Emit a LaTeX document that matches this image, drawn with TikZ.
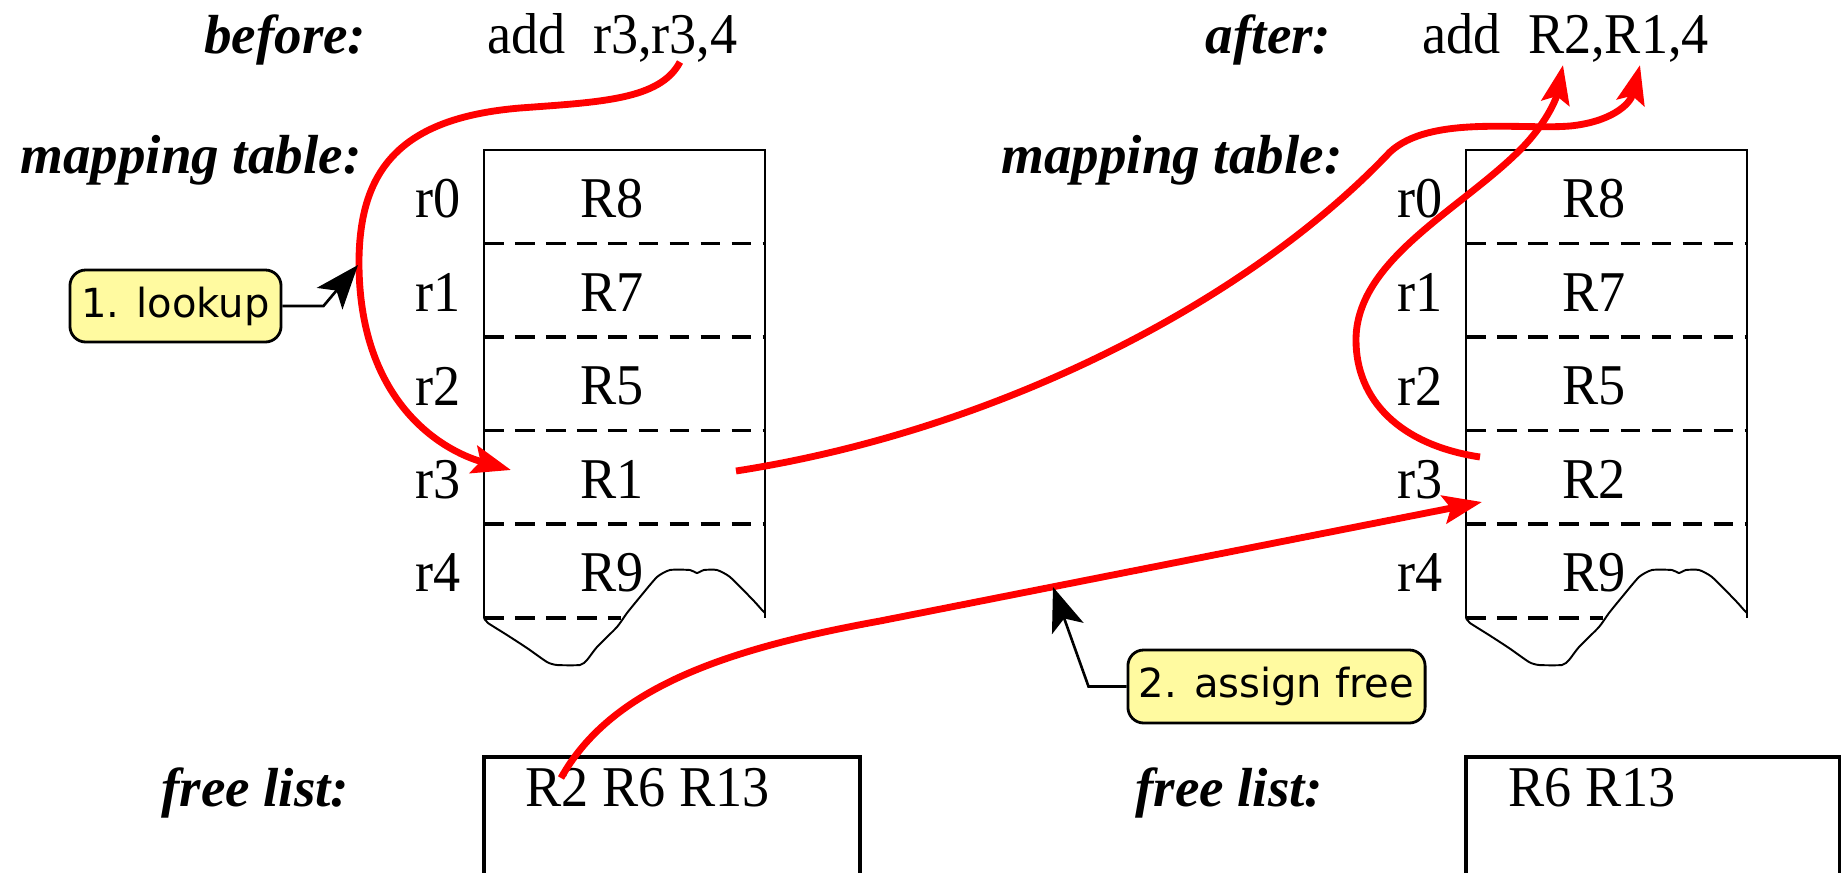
\documentclass[tikz,border=0pt]{standalone}
\usepackage{fontspec}
\setmainfont{Liberation Serif}
\newfontfamily\regfont{Liberation Serif}[FakeStretch=0.94]
\newfontfamily\calloutfont{DejaVu Sans}
\usetikzlibrary{arrows.meta}
\definecolor{notefill}{RGB}{255,250,160}
\definecolor{flowred}{RGB}{255,0,0}

\tikzset{
  lbl/.style={font=\fontsize{15.65}{18}\selectfont\bfseries\itshape, inner sep=0pt},
  txt/.style={font=\regfont\fontsize{16.4}{19}\selectfont, inner sep=0pt},
  frame/.style={line width=0.75pt},
  listframe/.style={line width=1pt},
  rowsep/.style={line width=0.95pt, dash pattern=on 5.6pt off 3.2pt},
  wave/.style={line width=0.55pt},
  flow/.style={draw=flowred, line width=1.95pt, -{Stealth[length=11pt,width=8pt,inset=2pt]}},
  note/.style={draw, line width=0.8pt, fill=notefill, rounded corners=4.5pt,
    font=\calloutfont\fontsize{11.4}{13}\selectfont, inner sep=0pt, align=center},
  notearrow/.style={line width=0.75pt, -{Stealth[length=12.5pt,width=9.5pt,inset=3pt]}}
}

\begin{document}
\begin{tikzpicture}[x=0.01cm,y=-0.01cm]
\useasboundingbox (0,0) rectangle (1841,872);

% headings
\node[lbl, anchor=base east] (before) at (367,53) {before:};
\node[txt, anchor=base west] (instrA) at (487,53) {add\ \ r3,r3,4};
\node[lbl, anchor=base east] (after) at (1332,53) {after:};
\node[txt, anchor=base west] (instrB) at (1422,53) {add\ \ R2,R1,4};
\node[lbl, anchor=base east] (mapL) at (362,173) {mapping table:};
\node[lbl, anchor=base east] (mapR) at (1343,173) {mapping table:};

% the two mapping tables
\foreach \x/\s/\v in {484/L/R1,1466/R/R2}{
  \draw[frame] (\x,618) -- (\x,150) -- (\x+281,150) -- (\x+281,618);
  \foreach \y in {243.5,337,430.5,524}
    \draw[rowsep] (\x,\y) -- (\x+281,\y);
  \draw[rowsep] (\x,618) -- (\x+137,618);
  \draw[wave] plot[smooth, tension=0.35] coordinates {
    (\x,618) (\x+4,623) (\x+23,635) (\x+43,648) (\x+63,662) (\x+73,665)
    (\x+96,665) (\x+103,660) (\x+113,647) (\x+133,627) (\x+143,613)
    (\x+156,597) (\x+173,577) (\x+186,570) (\x+206,570) (\x+213,573)
    (\x+220,570) (\x+233,570) (\x+246,577) (\x+269,600) (\x+278,610) (\x+281,613)};
  \foreach \i/\r/\e in {0/r0/R8,1/r1/R7,2/r2/R5,3/r3/\v,4/r4/R9}{
    \node[txt] (\s-\r) at (\x-46,199+\i*93.5) {\r};
    \node[txt] (\s-\e) at (\x+128,199+\i*93.5) {\e};
  }
}

% free lists
\node[lbl, anchor=base east] (freeL) at (350,806) {free list:};
\node[lbl, anchor=base east] (freeR) at (1324,806) {free list:};
\draw[listframe] (484,880) -- (484,757) -- (860,757) -- (860,880);
\draw[listframe] (1466,880) -- (1466,757) -- (1840,757) -- (1840,880);
\node[txt, anchor=base west] (listL) at (525,806) {R2 R6 R13};
\node[txt, anchor=base west] (listR) at (1508,806) {R6 R13};

% register flow
\coordinate (srcA) at (680,62);
\coordinate (tipA) at (511,470);
\coordinate (srcB) at (736,471);
\coordinate (tipB) at (1640,65);
\coordinate (srcC) at (1480,457);
\coordinate (tipC) at (1563,65);
\coordinate (srcD) at (561,778);
\coordinate (tipD) at (1482,502);

\draw[flow] (srcA) .. controls (660,100) and (600,102) .. (520,108)
  .. controls (400,118) and (360,170) .. (359,260)
  .. controls (358,400) and (440,450) .. (tipA);
\draw[flow] (srcB) .. controls (1000,430) and (1250,300) .. (1390,152)
  .. controls (1430,115) and (1520,130) .. (1570,126)
  .. controls (1610,122) and (1630,105) .. (tipB);
\draw[flow] (srcC) .. controls (1400,445) and (1356,400) .. (1356,340)
  .. controls (1356,260) and (1460,210) .. (1520,150)
  .. controls (1545,125) and (1556,100) .. (tipC);
\draw[flow] (srcD) .. controls (610,690) and (720,650) .. (880,621) -- (tipD);

% callouts
\node[note, minimum width=2.11cm, minimum height=0.72cm] (lookup) at (175.5,306) {1. lookup};
\node[note, minimum width=2.97cm, minimum height=0.73cm] (assign) at (1276.5,686.5) {2. assign free};
\coordinate (lkTip) at (358,265);
\coordinate (asTip) at (1053,587);
\draw[notearrow] (lookup.east) -- ++(41,0) -- (lkTip);
\draw[notearrow] (assign.west) -- ++(-38,0) -- (asTip);
\end{tikzpicture}
\end{document}
